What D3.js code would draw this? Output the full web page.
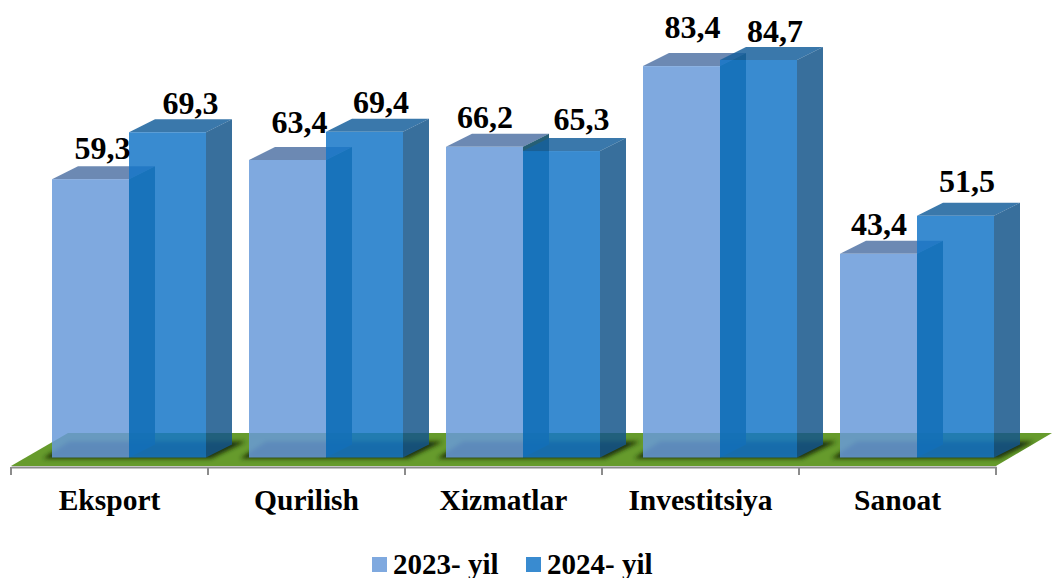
<!DOCTYPE html>
<html>
<head>
<meta charset="utf-8">
<script src="https://cdn.jsdelivr.net/npm/d3@7"></script>
<style>
  html, body { margin: 0; padding: 0; background: #fff; }
  svg { display: block; }
  text { font-family: "Liberation Serif", serif; font-weight: bold; fill: #000; }
</style>
</head>
<body>
<div id="chart"></div>
<script>
var categories = ["Eksport", "Qurilish", "Xizmatlar", "Investitsiya", "Sanoat"];
var seriesNames = ["2023- yil", "2024- yil"];
var values2023 = [59.3, 63.4, 66.2, 83.4, 43.4];
var values2024 = [69.3, 69.4, 65.3, 84.7, 51.5];

var width = 1052, height = 578;
var baseY = 457.5, axisY = 467;
var depthX = 26, depthY = 13;

var svg = d3.select("#chart").append("svg")
    .attr("width", width)
    .attr("height", height);

// Scales
var x = d3.scaleBand()
    .domain(categories)
    .range([11, 996]);

var xSeries = d3.scaleBand()
    .domain(seriesNames)
    .range([41, 195]);

var y = d3.scaleLinear()
    .domain([0, 84.7])
    .range([baseY, 60]);

var colors = [
  { front: "#689ad9", top: "#5274a6", side: "#00435d", legend: "#7fa9df" },
  { front: "#1677c8", top: "#17609c", side: "#15568b", legend: "#398bd0" }
];

// label nudges, the labels were placed by hand in the original
var labelDx = [
  [12, 12, 0.5, 11, 0.5],
  [23, 16.5, 20, 16.5, 11.5]
];
var labelY = [
  [159, 133, 128, 38, 235],
  [114, 113, 130, 42, 192]
];

var defs = svg.append("defs");
defs.append("filter").attr("id", "blur")
    .attr("x", "-30%").attr("y", "-30%").attr("width", "160%").attr("height", "160%")
    .append("feGaussianBlur").attr("stdDeviation", 2.2);

// ---- FLOOR ---- //
var floorPath = "M11,466 L68,433 L1052,433 L996,466 Z";
defs.append("clipPath").attr("id", "floorClip")
    .append("path").attr("d", floorPath);

svg.append("path").attr("d", floorPath).attr("fill", "#669b2c");

// dark shadow round each group of bars
var shadows = svg.append("g").attr("clip-path", "url(#floorClip)");
shadows.selectAll("path")
    .data(categories)
  .enter().append("path")
    .attr("filter", "url(#blur)")
    .attr("fill", "#1f3208")
    .attr("d", function(d) {
      var l = x(d) + xSeries.range()[0], r = x(d) + xSeries.range()[1];
      return "M" + (l - 9) + "," + (baseY + 1) + " L" + (r + 5) + "," + (baseY + 1) +
             " L" + (r + depthX + 14) + "," + (baseY - depthY - 3) +
             " L" + (l + depthX - 9) + "," + (baseY - depthY - 3) + " Z";
    });

// ---- DRAW BARS ---- //
function drawSeries(values, i) {
  var c = colors[i];
  var name = seriesNames[i];
  var alpha = 0.85;
  var bars = svg.append("g").attr("class", "series-" + i)
      .selectAll("g")
      .data(categories)
    .enter().append("g");

  function left(d) { return x(d) + xSeries(name); }
  function top(j) { return y(values[j]); }

  // top face
  bars.append("path")
      .attr("fill", c.top)
      .attr("fill-opacity", alpha)
      .attr("d", function(d, j) {
        var l = left(d), r = l + xSeries.bandwidth(), t = top(j);
        return "M" + l + "," + t + " L" + (l + depthX) + "," + (t - depthY) +
               " L" + (r + depthX) + "," + (t - depthY) + " L" + r + "," + t + " Z";
      });

  // side face
  bars.append("path")
      .attr("fill", c.side)
      .attr("fill-opacity", alpha)
      .attr("d", function(d, j) {
        var r = left(d) + xSeries.bandwidth(), t = top(j);
        return "M" + r + "," + t + " L" + (r + depthX) + "," + (t - depthY) +
               " L" + (r + depthX) + "," + (baseY - depthY) + " L" + r + "," + baseY + " Z";
      });

  // front face
  bars.append("rect")
      .attr("fill", c.front)
      .attr("fill-opacity", alpha)
      .attr("x", left)
      .attr("y", function(d, j) { return top(j); })
      .attr("width", xSeries.bandwidth())
      .attr("height", function(d, j) { return baseY - top(j); });
}

drawSeries(values2023, 0);
drawSeries(values2024, 1);

// ---- DRAW TEXT LABELS ---- //
[values2023, values2024].forEach(function(values, i) {
  svg.append("g").selectAll("text")
      .data(categories)
    .enter().append("text")
      .attr("x", function(d, j) { return x(d) + xSeries(seriesNames[i]) + xSeries.bandwidth() / 2 + labelDx[i][j]; })
      .attr("y", function(d, j) { return labelY[i][j]; })
      .attr("text-anchor", "middle")
      .style("font-size", "32px")
      .text(function(d, j) { return String(values[j]).replace(".", ","); });
});

// ---- DRAW AXIS ---- //
var xAxis = d3.axisBottom(x).tickSize(0).tickPadding(22);

var axisGroup = svg.append("g")
    .attr("transform", "translate(0," + axisY + ")")
    .call(xAxis);

axisGroup.select(".domain").attr("stroke", "#8c8c8c").attr("stroke-width", 2);
axisGroup.selectAll("text").style("font-size", "29.5px").style("font-family", null);

svg.append("g").selectAll("line")
    .data(categories.concat(["end"]))
  .enter().append("line")
    .attr("x1", function(d) { return d === "end" ? x.range()[1] : x(d); })
    .attr("x2", function(d) { return d === "end" ? x.range()[1] : x(d); })
    .attr("y1", axisY)
    .attr("y2", axisY + 8)
    .attr("stroke", "#8c8c8c")
    .attr("stroke-width", 2);

// ---- LEGEND ---- //
var legendX = [372, 526];
var legend = svg.append("g").selectAll("g")
    .data(seriesNames)
  .enter().append("g")
    .attr("transform", function(d, i) { return "translate(" + legendX[i] + ",557)"; });

legend.append("rect")
    .attr("width", 15)
    .attr("height", 15)
    .attr("fill", function(d, i) { return colors[i].legend; });

legend.append("text")
    .attr("x", 21)
    .attr("y", 17)
    .style("font-size", "29px")
    .text(function(d) { return d; });
</script>
</body>
</html>
